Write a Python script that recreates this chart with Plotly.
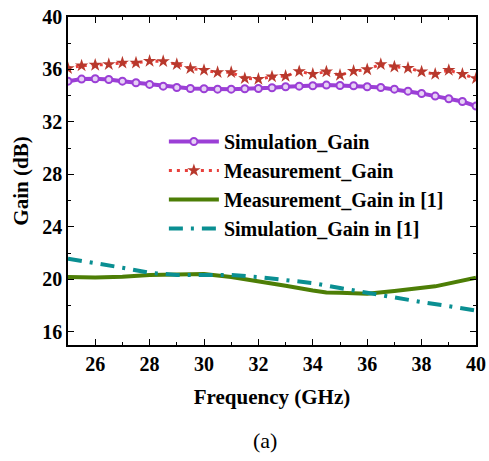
import plotly.graph_objects as go

freq_half = [25 + 0.5 * i for i in range(31)]
sim_gain = [35.11, 35.27, 35.29, 35.24, 35.11, 34.99, 34.86, 34.73, 34.63, 34.55,
            34.53, 34.50, 34.50, 34.53, 34.55, 34.61, 34.68, 34.73, 34.76, 34.81,
            34.78, 34.76, 34.68, 34.63, 34.50, 34.35, 34.17, 33.97, 33.77, 33.56, 33.21]
meas_gain = [36.08, 36.29, 36.34, 36.39, 36.51, 36.51, 36.64, 36.62, 36.39, 36.08,
             35.95, 35.78, 35.78, 35.32, 35.27, 35.45, 35.50, 35.85, 35.65, 35.83,
             35.57, 35.88, 36.00, 36.39, 36.21, 36.11, 35.83, 35.65, 35.95, 35.65, 35.32]
freq_ref_meas = [25, 26, 27, 28, 29, 30, 31, 32, 33, 34, 34.5, 35, 36, 37, 38, 38.5, 40]
ref_meas_gain = [20.18, 20.15, 20.20, 20.33, 20.38, 20.41, 20.18, 19.87, 19.52, 19.16,
                 19.01, 18.98, 18.91, 19.11, 19.36, 19.47, 20.13]
freq_ref_sim = [25, 26, 27, 28, 29, 30, 31, 32, 33, 34, 35, 36, 37, 38, 39, 40]
ref_sim_gain = [21.58, 21.25, 20.89, 20.51, 20.33, 20.33, 20.33, 20.18, 19.98, 19.72,
                19.34, 18.98, 18.60, 18.27, 17.96, 17.63]

FONT = "Liberation Serif"

fig = go.Figure()
fig.add_trace(go.Scatter(
    x=freq_half, y=sim_gain, name="Simulation_Gain", mode="lines+markers",
    line=dict(color="#9b3fd6", width=4),
    marker=dict(symbol="circle", size=7, color="#e6d2f5", line=dict(color="#9b3fd6", width=2)),
))
fig.add_trace(go.Scatter(
    x=freq_half, y=meas_gain, name="Measurement_Gain", mode="lines+markers",
    line=dict(color="#e8403c", width=3, dash="3px,5px"),
    marker=dict(symbol="star", size=10, color="#b8382c", line=dict(width=0)),
))
fig.add_trace(go.Scatter(
    x=freq_ref_meas, y=ref_meas_gain, name="Measurement_Gain in [1]", mode="lines",
    line=dict(color="#4d7e06", width=4),
))
fig.add_trace(go.Scatter(
    x=freq_ref_sim, y=ref_sim_gain, name="Simulation_Gain in [1]", mode="lines",
    line=dict(color="#0a8f92", width=4, dash="14px,8px,3px,8px"),
))

axis_common = dict(
    showline=True, linecolor="black", linewidth=1.5, mirror="allticks",
    ticks="inside", ticklen=6, tickwidth=1.2, tickcolor="black",
    showgrid=False, zeroline=False, automargin=False,
    tickfont=dict(family=FONT, size=20, color="black", weight="bold"),
)

fig.update_xaxes(
    range=[25, 40], tick0=26, dtick=2,
    minor=dict(ticks="inside", ticklen=3, dtick=1, tick0=25, tickcolor="black"),
    title=dict(text="Frequency (GHz)", font=dict(family=FONT, size=21, color="black", weight="bold"), standoff=16),
    **axis_common,
)
fig.update_yaxes(
    range=[15, 40], tick0=16, dtick=4,
    minor=dict(ticks="inside", ticklen=3, dtick=2, tick0=16, tickcolor="black"),
    title=dict(text="Gain (dB)", font=dict(family=FONT, size=21, color="black", weight="bold"), standoff=8),
    **axis_common,
)

fig.add_annotation(
    text="(a)", x=0.483, y=-0.29, xref="paper", yref="paper", showarrow=False,
    yanchor="middle", font=dict(family=FONT, size=22, color="black"),
)

fig.update_layout(
    width=489, height=461,
    margin=dict(l=68, r=13, t=17, b=116),
    paper_bgcolor="white", plot_bgcolor="white",
    showlegend=True,
    legend=dict(
        x=0.235, y=0.68, xanchor="left", yanchor="top",
        bgcolor="rgba(0,0,0,0)", borderwidth=0,
        font=dict(family=FONT, size=20, color="black", weight="bold"),
        itemwidth=50,
    ),
)

fig.write_html("out.html")
